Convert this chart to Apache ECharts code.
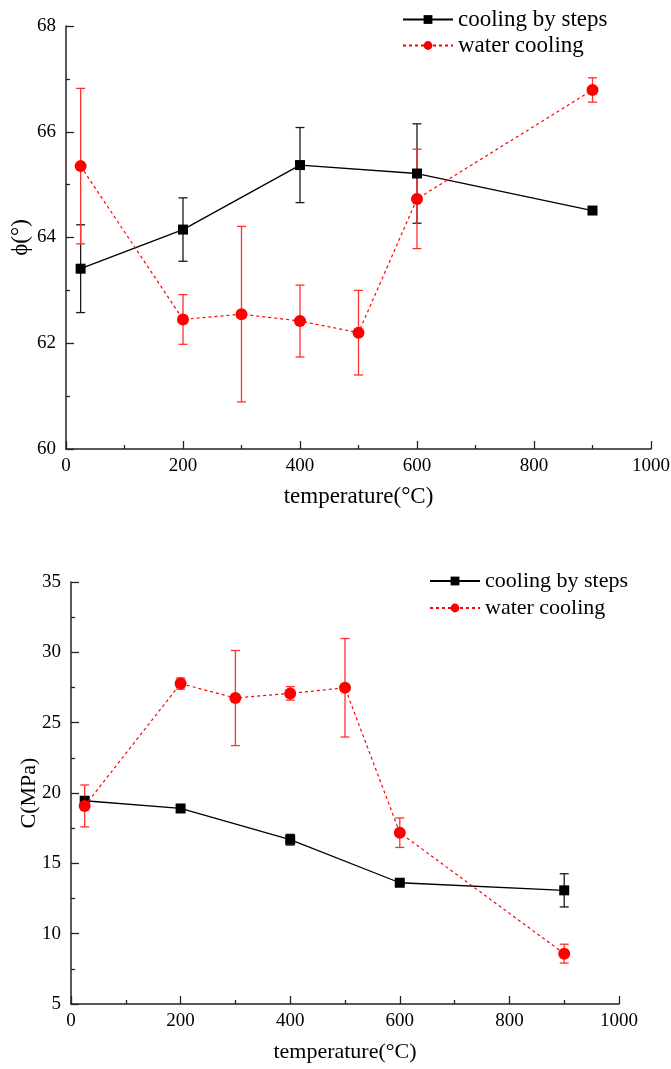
<!DOCTYPE html>
<html>
<head>
<meta charset="utf-8">
<script src="https://cdn.jsdelivr.net/npm/echarts@6/dist/echarts.min.js"></script>
<style>
  html, body { margin: 0; padding: 0; background: #fff; }
  #chart { width: 671px; height: 1069px; }
</style>
</head>
<body>
<div id="chart"></div>
<script>
// Temperatures of the specimens (°C)
const tempSteps = [25, 200, 400, 600, 900];
const tempWater = [25, 200, 300, 400, 500, 600, 900];

// Internal friction angle φ (°)
const phiSteps = [63.41, 64.15, 65.37, 65.21, 64.51];
const phiStepsErr = [0.83, 0.60, 0.71, 0.94, 0];
const phiWater = [65.35, 62.45, 62.55, 62.42, 62.20, 64.73, 66.79];
const phiWaterErr = [1.47, 0.47, 1.66, 0.68, 0.80, 0.94, 0.23];

// Cohesion C (MPa)
const cSteps = [19.45, 18.90, 16.68, 13.62, 13.08];
const cStepsErr = [0, 0, 0.38, 0, 1.18];
const cWater = [19.08, 27.78, 26.75, 27.08, 27.48, 17.18, 8.58];
const cWaterErr = [1.49, 0.40, 3.38, 0.48, 3.50, 1.05, 0.67];

// Axis ranges
const xTicks = { min: 0, max: 1000, interval: 200 };
const phiTicks = { min: 60, max: 68, interval: 2 };
const cTicks = { min: 5, max: 35, interval: 5 };

const seriesNames = ['cooling by steps', 'water cooling'];
const FONT = "'Liberation Serif', 'Times New Roman', serif";

const pairs = (xs, ys) => xs.map((x, i) => [x, ys[i]]);
const bars = (xs, ys, es) => xs.map((x, i) => [x, ys[i] - es[i], ys[i] + es[i]]);

function errorBarItem(params, api) {
  const x = api.value(0);
  const lo = api.coord([x, api.value(1)]);
  const hi = api.coord([x, api.value(2)]);
  if (Math.abs(lo[1] - hi[1]) < 0.5) return null;
  const cap = 4.5;
  const style = { stroke: api.visual('color'), lineWidth: 1.3 };
  return {
    type: 'group',
    children: [
      { type: 'line', shape: { x1: lo[0], y1: lo[1], x2: hi[0], y2: hi[1] }, style },
      { type: 'line', shape: { x1: lo[0] - cap, y1: lo[1], x2: lo[0] + cap, y2: lo[1] }, style },
      { type: 'line', shape: { x1: hi[0] - cap, y1: hi[1], x2: hi[0] + cap, y2: hi[1] }, style }
    ]
  };
}

function xAxis(gridIndex, gap, fontSize) {
  return {
    gridIndex, type: 'value', min: xTicks.min, max: xTicks.max, interval: xTicks.interval,
    name: 'temperature(°C)', nameLocation: 'middle', nameGap: gap, nameMoveOverlap: false,
    nameTextStyle: { fontFamily: FONT, fontSize, color: '#000' },
    axisLine: { show: true, onZero: false, lineStyle: { color: '#222', width: 1.5 } },
    axisTick: { show: true, inside: true, length: 8, lineStyle: { color: '#222', width: 1.3 } },
    minorTick: { show: true, splitNumber: 2, length: 4, lineStyle: { color: '#222', width: 1.3 } },
    axisLabel: { fontFamily: FONT, fontSize: 19, color: '#000', margin: 8, formatter: v => String(v) },
    splitLine: { show: false }
  };
}

function yAxis(gridIndex, ticks, name, gap, fontSize) {
  return {
    gridIndex, type: 'value', min: ticks.min, max: ticks.max, interval: ticks.interval,
    name, nameLocation: 'middle', nameGap: gap, nameMoveOverlap: false,
    nameTextStyle: { fontFamily: FONT, fontSize, color: '#000' },
    axisLine: { show: true, onZero: false, lineStyle: { color: '#222', width: 1.5 } },
    axisTick: { show: true, inside: true, length: 8, lineStyle: { color: '#222', width: 1.3 } },
    minorTick: { show: true, splitNumber: 2, length: 4, lineStyle: { color: '#222', width: 1.3 } },
    axisLabel: { fontFamily: FONT, fontSize: 19, color: '#000', margin: 10, formatter: v => String(v) },
    splitLine: { show: false }
  };
}

function lineSeries(name, idx, data, isWater) {
  return {
    name, type: 'line', xAxisIndex: idx, yAxisIndex: idx, data,
    symbol: isWater ? 'circle' : 'rect',
    symbolSize: isWater ? 12 : 10,
    color: isWater ? '#ff0000' : '#000000',
    lineStyle: isWater
      ? { color: '#ff0000', width: 1.2, type: [3, 3] }
      : { color: '#000000', width: 1.3 },
    itemStyle: { color: isWater ? '#ff0000' : '#000000' },
    z: isWater ? 4 : 3,
    animation: false
  };
}

function errSeries(idx, data, color, z) {
  return {
    type: 'custom', xAxisIndex: idx, yAxisIndex: idx, data,
    renderItem: errorBarItem, itemStyle: { color }, z, silent: true, animation: false
  };
}

function legend(left, top, fontSize, lineHeight, gap) {
  return {
    data: seriesNames, orient: 'vertical', left, top,
    itemWidth: 50, itemHeight: 11, itemGap: gap,
    textStyle: { fontFamily: FONT, fontSize, color: '#000', lineHeight },
    selectedMode: false
  };
}

const chart = echarts.init(document.getElementById('chart'), null, { renderer: 'canvas' });
chart.setOption({
  backgroundColor: '#fff',
  animation: false,
  grid: [
    { left: 66, right: 20, top: 26, height: 423, containLabel: false, outerBoundsMode: 'none' },
    { left: 71, right: 52, top: 582, height: 422, containLabel: false, outerBoundsMode: 'none' }
  ],
  legend: [
    legend(397, 3, 23, 23, 3),
    legend(424, 565, 22, 22, 5)
  ],
  xAxis: [xAxis(0, 36, 23), xAxis(1, 37, 22)],
  yAxis: [yAxis(0, phiTicks, 'ϕ(°)', 34, 23), yAxis(1, cTicks, 'C(MPa)', 31, 22)],
  series: [
    errSeries(0, bars(tempSteps, phiSteps, phiStepsErr), '#1a1a1a', 2),
    lineSeries(seriesNames[0], 0, pairs(tempSteps, phiSteps), false),
    errSeries(0, bars(tempWater, phiWater, phiWaterErr), '#ff3030', 3),
    lineSeries(seriesNames[1], 0, pairs(tempWater, phiWater), true),

    errSeries(1, bars(tempSteps, cSteps, cStepsErr), '#1a1a1a', 2),
    lineSeries(seriesNames[0], 1, pairs(tempSteps, cSteps), false),
    errSeries(1, bars(tempWater, cWater, cWaterErr), '#ff3030', 3),
    lineSeries(seriesNames[1], 1, pairs(tempWater, cWater), true)
  ]
});
</script>
</body>
</html>
